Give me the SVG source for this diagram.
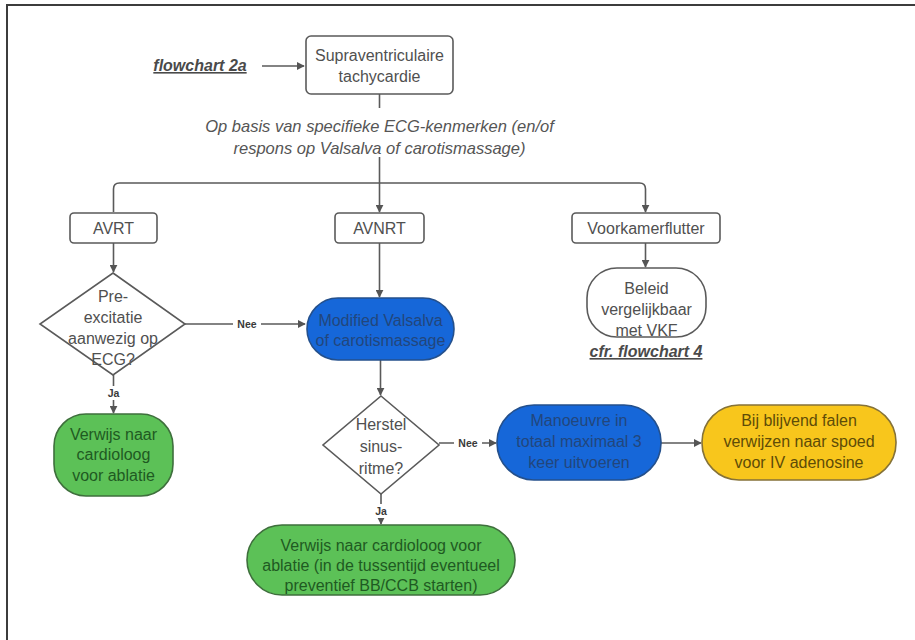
<svg xmlns="http://www.w3.org/2000/svg" width="915" height="640" viewBox="0 0 915 640">
  <defs>
    <marker id="arrow" viewBox="0 0 10 10" refX="9" refY="5" markerWidth="8" markerHeight="8" markerUnits="userSpaceOnUse" orient="auto">
      <path d="M0,0 L10,5 L0,10 z" fill="#555"/>
    </marker>
    <style>
      .frame { fill: none; stroke: #3c3c3c; stroke-width: 2; }
      .box { fill: #fff; stroke: #5a5a5a; stroke-width: 1.6; }
      .blue { fill: #1667d9; stroke: #24508c; stroke-width: 1.6; }
      .green { fill: #5cc157; stroke: #3e6f3c; stroke-width: 1.6; }
      .yellow { fill: #f8c61c; stroke: #857238; stroke-width: 1.6; }
      .t { font-family: "Liberation Sans", Arial, sans-serif; font-size: 16px; text-anchor: middle; fill: #505050; }
      .tb { fill: #22467c; }
      .tg { fill: #1f5a22; }
      .ty { fill: #5e4c08; }
      .note { font-family: "Liberation Sans", Arial, sans-serif; font-size: 16.5px; font-style: italic; text-anchor: middle; fill: #555; }
      .ref { font-family: "Liberation Sans", Arial, sans-serif; font-size: 16px; font-style: italic; font-weight: bold; text-decoration: underline; text-anchor: middle; fill: #4a4a4a; }
      .lbl { font-family: "Liberation Sans", Arial, sans-serif; font-size: 10.5px; font-weight: bold; text-anchor: middle; fill: #3a3a3a; }
      .edge { fill: none; stroke: #5a5a5a; stroke-width: 1.6; }
      .arr { marker-end: url(#arrow); }
    </style>
  </defs>

  <rect width="915" height="640" fill="#fff"/>
  <!-- page frame -->
  <path class="frame" d="M7,640 V5 H915"/>

  <!-- connectors -->
  <g id="connectors">
    <path class="edge arr" d="M262,66 H304"/>
    <path class="edge" d="M379.5,94 V108"/>
    <path class="edge" d="M379.5,157 V183"/>
    <path class="edge arr" d="M113.5,212 V189 Q113.5,183 119.5,183 H639.5 Q645.5,183 645.5,189 V212"/>
    <path class="edge arr" d="M379.5,183 V212"/>
    <path class="edge arr" d="M645.5,243 V267"/>
    <path class="edge arr" d="M113.5,243 V272"/>
    <path class="edge arr" d="M185,324 H305"/>
    <path class="edge arr" d="M379.5,243 V297"/>
    <path class="edge arr" d="M380.5,360 V395"/>
    <path class="edge arr" d="M113.5,375 V413"/>
    <path class="edge arr" d="M439,443 H496"/>
    <path class="edge arr" d="M661,443 H701"/>
    <path class="edge arr" d="M381,494 V524"/>
    <!-- edge labels -->
    <rect x="233" y="317" width="28" height="14" fill="#fff"/>
    <text class="lbl" x="247" y="327.5">Nee</text>
    <rect x="101" y="386" width="24" height="14" fill="#fff"/>
    <text class="lbl" x="113.5" y="396.5">Ja</text>
    <rect x="454" y="436" width="28" height="14" fill="#fff"/>
    <text class="lbl" x="468" y="446.5">Nee</text>
    <rect x="369" y="504" width="24" height="14" fill="#fff"/>
    <text class="lbl" x="381" y="514.5">Ja</text>
  </g>

  <g id="ref-2a">
    <text class="ref" x="200" y="71">flowchart 2a</text>
  </g>

  <g id="svt">
    <rect class="box" x="306" y="36" width="147" height="58" rx="5"/>
    <text class="t" x="379.5" y="61">Supraventriculaire</text>
    <text class="t" x="379.5" y="82">tachycardie</text>
  </g>

  <g id="criteria">
    <text class="note" x="379.5" y="132">Op basis van specifieke ECG-kenmerken (en/of</text>
    <text class="note" x="379.5" y="154">respons op Valsalva of carotismassage)</text>
  </g>

  <g id="avrt">
    <rect class="box" x="70" y="213" width="87" height="30" rx="4"/>
    <text class="t" x="113.5" y="234">AVRT</text>
  </g>

  <g id="avnrt">
    <rect class="box" x="335" y="213" width="89" height="30" rx="4"/>
    <text class="t" x="379.5" y="234">AVNRT</text>
  </g>

  <g id="flutter">
    <rect class="box" x="572" y="213" width="148" height="30" rx="4"/>
    <text class="t" x="646" y="234">Voorkamerflutter</text>
  </g>

  <g id="beleid">
    <rect class="box" x="587" y="268" width="119" height="69" rx="30"/>
    <text class="t" x="646.5" y="294">Beleid</text>
    <text class="t" x="646.5" y="315">vergelijkbaar</text>
    <text class="t" x="646.5" y="336">met VKF</text>
  </g>

  <g id="ref-4">
    <text class="ref" x="646" y="357">cfr. flowchart 4</text>
  </g>

  <g id="preexcitatie">
    <polygon class="box" points="113,273 185,324 113,375 40,324"/>
    <text class="t" x="113" y="302">Pre-</text>
    <text class="t" x="113" y="323">excitatie</text>
    <text class="t" x="113" y="344">aanwezig op</text>
    <text class="t" x="113" y="365">ECG?</text>
  </g>

  <g id="valsalva">
    <rect class="blue" x="307" y="298" width="147" height="62" rx="31"/>
    <text class="t tb" x="380.5" y="326">Modified Valsalva</text>
    <text class="t tb" x="380.5" y="346">of carotismassage</text>
  </g>

  <g id="verwijs-1">
    <rect class="green" x="54" y="414" width="119" height="82" rx="32"/>
    <text class="t tg" x="113.5" y="440">Verwijs naar</text>
    <text class="t tg" x="113.5" y="460">cardioloog</text>
    <text class="t tg" x="113.5" y="481">voor ablatie</text>
  </g>

  <g id="herstel">
    <polygon class="box" points="381,396 439,445 381,494 323,445"/>
    <text class="t" x="381" y="430">Herstel</text>
    <text class="t" x="381" y="452">sinus-</text>
    <text class="t" x="381" y="474">ritme?</text>
  </g>

  <g id="manoeuvre">
    <rect class="blue" x="497" y="405" width="164" height="75" rx="37"/>
    <text class="t tb" x="579" y="426">Manoeuvre in</text>
    <text class="t tb" x="579" y="447">totaal maximaal 3</text>
    <text class="t tb" x="579" y="468">keer uitvoeren</text>
  </g>

  <g id="adenosine">
    <rect class="yellow" x="702" y="405" width="194" height="75" rx="37"/>
    <text class="t ty" x="799" y="426">Bij blijvend falen</text>
    <text class="t ty" x="799" y="447">verwijzen naar spoed</text>
    <text class="t ty" x="799" y="468">voor IV adenosine</text>
  </g>

  <g id="verwijs-2">
    <rect class="green" x="247" y="525" width="268" height="70" rx="35"/>
    <text class="t tg" x="381" y="551">Verwijs naar cardioloog voor</text>
    <text class="t tg" x="381" y="571">ablatie (in de tussentijd eventueel</text>
    <text class="t tg" x="381" y="591">preventief BB/CCB starten)</text>
  </g>
</svg>
